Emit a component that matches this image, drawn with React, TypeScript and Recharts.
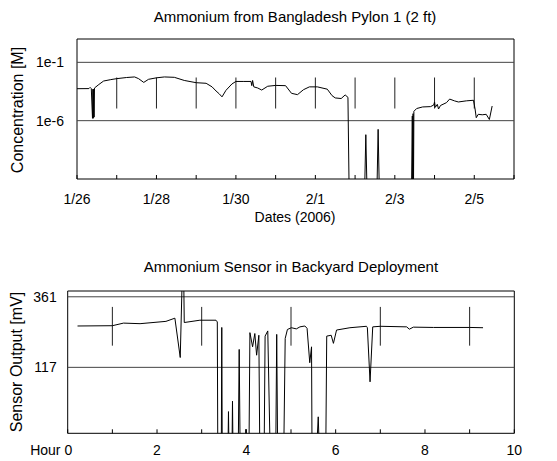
import React from 'react'
import {
  LineChart, Line, XAxis, YAxis, ReferenceLine, ReferenceArea,
} from 'recharts'

const FONT = '"Liberation Sans", Arial, Helvetica, sans-serif'

// top panel: days since 1/26 vs concentration (log)
const DAYS = [
  0.00, 0.30, 0.33, 0.36, 0.39, 0.40, 0.41, 0.42, 0.43, 0.44, 0.55, 0.67, 0.85, 1.00, 1.25, 1.45,
  1.55, 1.68, 1.80, 2.00, 2.20, 2.45, 2.70, 3.00, 3.25, 3.40, 3.50, 3.58, 3.65, 3.75, 3.90, 4.00,
  4.20, 4.38, 4.40, 4.42, 4.45, 4.55, 4.65, 4.80, 5.00, 5.25, 5.40, 5.55, 5.70, 5.85, 6.05, 6.30,
  6.42, 6.50, 6.65, 6.75, 6.82, 6.85, 7.24, 7.27, 7.30, 7.55, 7.58, 7.61, 8.42, 8.44, 8.45, 8.46,
  8.47, 8.48, 8.55, 8.70, 8.90, 8.98, 9.00, 9.02, 9.07, 9.10, 9.15, 9.30, 9.38, 9.50, 9.60, 9.80,
  9.98, 10.02, 10.05, 10.10, 10.20, 10.30, 10.38, 10.45,
]
const CONC = [
  5.5e-4, 5.6e-4, 7.1e-4, 5.6e-4, 1.6e-6, 5.0e-4, 1.6e-6, 5.0e-4, 2.0e-6, 6.3e-4, 1.26e-3, 2.5e-3, 3.3e-3, 4.0e-3, 5.0e-3, 5.6e-3,
  4.0e-3, 1.9e-3, 3.5e-3, 4.7e-3, 5.6e-3, 5.2e-3, 2.8e-3, 1.8e-3, 1.6e-3, 7.9e-4, 3.5e-4, 2.0e-4, 1.1e-4, 4.0e-4, 1.4e-3, 2.3e-3,
  2.3e-3, 2.3e-3, 1.0e-3, 2.8e-3, 7.9e-4, 6.3e-4, 4.2e-4, 8.9e-4, 1.05e-3, 1.0e-3, 2.2e-4, 1.7e-4, 4.5e-4, 7.9e-4, 7.9e-4, 5.0e-4,
  1.4e-4, 8.9e-5, 7.9e-5, 1.6e-4, 1.0e-4, 1e-12, 1e-12, 6.3e-8, 1e-12, 1e-12, 1.8e-7, 1e-12, 1e-12, 2.5e-6, 1e-12, 4.0e-6,
  1e-12, 6.3e-6, 1.1e-5, 1.5e-5, 1.6e-5, 2.2e-5, 4.0e-5, 1.4e-5, 2.5e-5, 1.0e-5, 2.0e-5, 3.5e-5, 7.1e-5, 5.0e-5, 4.0e-5, 5.0e-5,
  5.6e-5, 1.0e-5, 1.8e-6, 3.5e-6, 3.2e-6, 3.5e-6, 1.26e-6, 1.8e-5,
]
const DAY_TICKS = [0, 1, 2, 3, 4, 5, 6, 7, 8, 9, 10, 11]
const DAY_LABELS = ['1/26', '', '1/28', '', '1/30', '', '2/1', '', '2/3', '', '2/5', '']
const CONC_TICKS = [1e-6, 1e-1]
const CONC_LABELS = ['1e-6', '1e-1']
const DAY_MARKS = [1, 2, 3, 4, 5, 6, 7, 8, 9, 10]
const DAY_MARK_RANGE = [1.1e-5, 5e-3]

// bottom panel: hours vs sensor output
const HOURS = [
  0.22, 1.00, 1.25, 1.62, 2.20, 2.40, 2.52, 2.56, 2.60, 2.61, 2.96, 3.32, 3.35, 3.36, 3.44, 3.45,
  3.46, 3.59, 3.60, 3.61, 3.68, 3.69, 3.70, 3.82, 3.84, 3.86, 3.98, 3.99, 4.00, 4.06, 4.08, 4.14,
  4.19, 4.23, 4.28, 4.30, 4.40, 4.42, 4.48, 4.53, 4.66, 4.68, 4.70, 4.84, 4.87, 4.92, 5.01, 5.12,
  5.20, 5.31, 5.36, 5.42, 5.46, 5.47, 5.58, 5.61, 5.63, 5.78, 5.80, 5.90, 5.95, 6.02, 6.32, 6.69,
  6.71, 6.77, 6.83, 7.00, 7.59, 7.65, 7.74, 8.19, 9.00, 9.30,
]
const MV = [
  260, 261, 270, 268, 276, 287, 151, 400, 400, 272, 280, 280, 274, -150, -150, 255,
  -150, -150, -36, -150, -150, 0, -150, -150, 179, -150, -150, -97, -150, -150, 237, 188,
  234, 159, 228, -150, -150, 225, 243, -150, -150, 231, -150, -150, 217, 248, 254, 250,
  257, 260, 252, 133, 188, -150, -150, -54, -150, -150, 225, 228, 200, 246, 254, 259,
  254, 67, 257, 259, 257, 249, 256, 255, 255, 254,
]
const HOUR_TICKS = [0, 1, 2, 3, 4, 5, 6, 7, 8, 9, 10]
const HOUR_LABELS = ['Hour 0', '', '2', '', '4', '', '6', '', '8', '', '10']
const MV_TICKS = [117, 361]
const HOUR_MARKS = [1, 3, 5, 7, 9]
const HOUR_MARK_RANGE = [192, 326]

const topData = DAYS.map((d, i) => ({ d, c: CONC[i] }))
const bottomData = HOURS.map((h, i) => ({ h, v: MV[i] }))

const txt = { fontFamily: FONT, fontSize: 14, fill: '#000' }

function BottomTick({ x, y, payload, labels, offset }: any) {
  const label = labels[payload.value] ?? ''
  const isHour0 = label === 'Hour 0'
  return (
    <g>
      <line x1={x} y1={y} x2={x} y2={y - 4} stroke="#000" />
      {label && (
        <text x={isHour0 ? x + 4.5 : x} y={y + offset} textAnchor={isHour0 ? 'end' : 'middle'} style={txt}>
          {label}
        </text>
      )}
    </g>
  )
}

function TopTick({ x, y }: any) {
  return <line x1={x} y1={y} x2={x} y2={y + 4} stroke="#000" />
}

export default function App() {
  return (
    <div style={{ position: 'absolute', left: 0, top: 0, width: 557, height: 461, background: '#fff' }}>
      <div style={{ position: 'absolute', left: 0, top: 0 }}>
        <LineChart width={557} height={230} data={topData} margin={{ top: 39, right: 43, bottom: 21, left: 17 }}>
          <XAxis
            type="number" dataKey="d" domain={[0, 11]} ticks={DAY_TICKS} interval={0}
            axisLine={false} tickLine={false} tickSize={0} tickMargin={0} height={30}
            tick={<BottomTick labels={DAY_LABELS} offset={24.5} />}
          />
          <XAxis
            xAxisId="top" orientation="top" type="number" domain={[0, 11]} ticks={DAY_TICKS} interval={0}
            axisLine={false} tickLine={false} tickSize={0} tickMargin={0} height={0}
            tick={<TopTick />}
          />
          <YAxis
            type="number" scale="log" domain={[1e-11, 10]} allowDataOverflow ticks={CONC_TICKS} interval={0}
            tickFormatter={(v: number) => CONC_LABELS[CONC_TICKS.indexOf(v)]}
            axisLine={false} tickLine={false} tickSize={0} tickMargin={13} width={60}
            tick={txt}
          />
          {CONC_TICKS.map((t) => (
            <ReferenceLine key={t} y={t} stroke="#444" strokeWidth={1} />
          ))}
          {DAY_MARKS.map((d) => (
            <ReferenceLine
              key={d}
              segment={[{ x: d, y: DAY_MARK_RANGE[0] }, { x: d, y: DAY_MARK_RANGE[1] }]}
              stroke="#222" strokeWidth={1}
            />
          ))}
          <ReferenceArea x1={0} x2={11} y1={1e-11} y2={10} fill="none" stroke="#000" strokeWidth={1} />
          <Line type="linear" dataKey="c" stroke="#000" strokeWidth={1} dot={false} isAnimationActive={false} />
        </LineChart>
      </div>

      <div style={{ position: 'absolute', left: 0, top: 230 }}>
        <LineChart width={557} height={231} data={bottomData} margin={{ top: 61, right: 42.7, bottom: 7.7, left: 7.7 }}>
          <XAxis
            type="number" dataKey="h" domain={[0, 10]} ticks={HOUR_TICKS} interval={0}
            axisLine={false} tickLine={false} tickSize={0} tickMargin={0} height={20}
            tick={<BottomTick labels={HOUR_LABELS} offset={21.7} />}
          />
          <XAxis
            xAxisId="top" orientation="top" type="number" domain={[0, 10]} ticks={HOUR_TICKS} interval={0}
            axisLine={false} tickLine={false} tickSize={0} tickMargin={0} height={0}
            tick={<TopTick />}
          />
          <YAxis
            type="number" domain={[-111, 381]} allowDataOverflow ticks={MV_TICKS} interval={0}
            axisLine={false} tickLine={false} tickSize={0} tickMargin={11} width={60}
            tick={txt}
          />
          {MV_TICKS.map((t) => (
            <ReferenceLine key={t} y={t} stroke="#444" strokeWidth={1} />
          ))}
          {HOUR_MARKS.map((h) => (
            <ReferenceLine
              key={h}
              segment={[{ x: h, y: HOUR_MARK_RANGE[0] }, { x: h, y: HOUR_MARK_RANGE[1] }]}
              stroke="#222" strokeWidth={1}
            />
          ))}
          <ReferenceArea x1={0} x2={10} y1={-111} y2={381} fill="none" stroke="#000" strokeWidth={1} />
          <Line type="linear" dataKey="v" stroke="#000" strokeWidth={1} dot={false} isAnimationActive={false} />
        </LineChart>
      </div>

      <svg width={557} height={461} style={{ position: 'absolute', left: 0, top: 0, pointerEvents: 'none' }}>
        <text x={295} y={21.5} textAnchor="middle" style={{ ...txt, fontSize: 15 }}>
          Ammonium from Bangladesh Pylon 1 (2 ft)
        </text>
        <text x={295} y={221.5} textAnchor="middle" style={{ ...txt, fontSize: 14 }}>
          Dates (2006)
        </text>
        <text x={23} y={110} textAnchor="middle" transform="rotate(-90 23 110)" style={{ ...txt, fontSize: 16 }}>
          Concentration [M]
        </text>
        <text x={291} y={272.3} textAnchor="middle" style={{ ...txt, fontSize: 15 }}>
          Ammonium Sensor in Backyard Deployment
        </text>
        <text x={21.5} y={362} textAnchor="middle" transform="rotate(-90 21.5 362)" style={{ ...txt, fontSize: 16 }}>
          Sensor Output [mV]
        </text>
      </svg>
    </div>
  )
}
